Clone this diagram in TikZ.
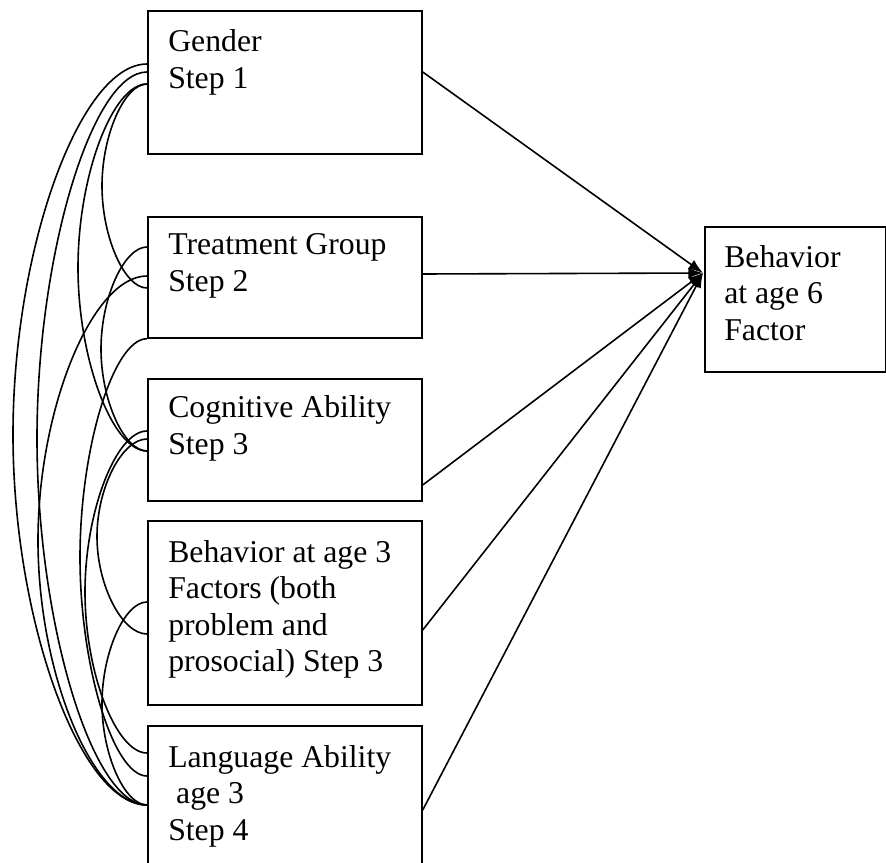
\documentclass[tikz,border=0pt]{standalone}
\usepackage{fontspec}
\setmainfont{Liberation Serif}
\usetikzlibrary{calc,arrows.meta}
\newcommand\corrarc[3]{\draw[corr] (#1) .. controls ($(#1)+({(#3-147)/2},0)$) and ($(#1)!0.25!(#2)+(#3-147,0)$) .. ($(#1)!0.5!(#2)+(#3-147,0)$) .. controls ($(#1)!0.75!(#2)+(#3-147,0)$) and ($(#2)+({(#3-147)/2},0)$) .. (#2);}
\begin{document}
\begin{tikzpicture}[x=0.75pt,y=-0.75pt,
  box/.style={draw,line width=1.3pt,inner sep=0pt,anchor=north west},
  lbl/.style={anchor=base west,align=left,inner sep=0pt,font=\fontsize{23.8}{27.4}\selectfont},
  corr/.style={line width=1.2pt},
  arr/.style={line width=1.2pt,-{Latex[length=11pt,width=8pt]}}]
\useasboundingbox (0,0) rectangle (886,863);
% boxes
\node[box,minimum width=205.5pt,minimum height=107.25pt] (gender) at (147,10) {};
\node[box,minimum width=205.5pt,minimum height=90.75pt] (treat) at (147,216) {};
\node[box,minimum width=205.5pt,minimum height=91.5pt] (cog) at (147,378) {};
\node[box,minimum width=205.5pt,minimum height=138pt] (beh3) at (147,520) {};
\node[box,minimum width=205.5pt,minimum height=120pt] (lang) at (147,725) {};
\node[box,minimum width=135.75pt,minimum height=108.75pt] (beh6) at (704,226) {};
% texts (anchor = baseline of last line)
\node[lbl] (gendertxt) at ($(gender.north west)+(21,78.5)$) {Gender\\Step 1};
\node[lbl] (treattxt) at ($(treat.north west)+(21,75.5)$) {Treatment Group\\Step 2};
\node[lbl] (cogtxt) at ($(cog.north west)+(21,76.5)$) {Cognitive Ability\\Step 3};
\node[lbl] (beh3txt) at ($(beh3.north west)+(21,151.6)$) {Behavior at age 3\\Factors (both\\problem and\\prosocial) Step 3};
\node[lbl] (langtxt) at ($(lang.north west)+(21,115.1)$) {Language Ability\\\hspace*{0.25em}age 3\\Step 4};
\node[lbl] (beh6txt) at ($(beh6.north west)+(20,114.1)$) {Behavior\\at age 6\\Factor};
% left endpoints
\coordinate (g1) at ($(gender.north west)+(0,54)$);
\coordinate (g2) at ($(gender.north west)+(0,62)$);
\coordinate (g3) at ($(gender.north west)+(0,74)$);
\coordinate (t1) at ($(treat.north west)+(0,31)$);
\coordinate (t2) at ($(treat.north west)+(0,60)$);
\coordinate (t3) at ($(treat.north west)+(0,72)$);
\coordinate (t4) at (treat.south west);
\coordinate (c1) at ($(cog.north west)+(0,53)$);
\coordinate (c2) at ($(cog.north west)+(0,61)$);
\coordinate (c3) at ($(cog.north west)+(0,73)$);
\coordinate (b1) at ($(beh3.north west)+(0,82)$);
\coordinate (b2) at ($(beh3.north west)+(0,114)$);
\coordinate (l1) at ($(lang.north west)+(0,28)$);
\coordinate (l2) at ($(lang.north west)+(0,51)$);
\coordinate (l3) at ($(lang.north west)+(0,80)$);
% correlation arcs
\corrarc{g1}{l3}{13}
\corrarc{g2}{l3}{37}
\corrarc{g3}{t3}{102}
\corrarc{g3}{c3}{78}
\corrarc{t1}{c3}{101}
\corrarc{t2}{l3}{38}
\corrarc{t4}{l2}{80}
\corrarc{c1}{l1}{85}
\corrarc{c2}{b2}{97}
\corrarc{b1}{l3}{102}
% right starting points and arrows
\coordinate (ge) at ($(gender.north east)+(0,62)$);
\coordinate (te) at ($(treat.north east)+(0,58)$);
\coordinate (ce) at ($(cog.north east)+(0,107)$);
\coordinate (be) at ($(beh3.north east)+(0,110)$);
\coordinate (le) at ($(lang.north east)+(0,85)$);
\coordinate (tip) at ($(beh6.north west)+(-1,47)$);
\draw[arr] (ge) -- (tip);
\draw[arr] (te) -- (tip);
\draw[arr] (ce) -- (tip);
\draw[arr] (be) -- (tip);
\draw[arr] (le) -- (tip);
\end{tikzpicture}
\end{document}
